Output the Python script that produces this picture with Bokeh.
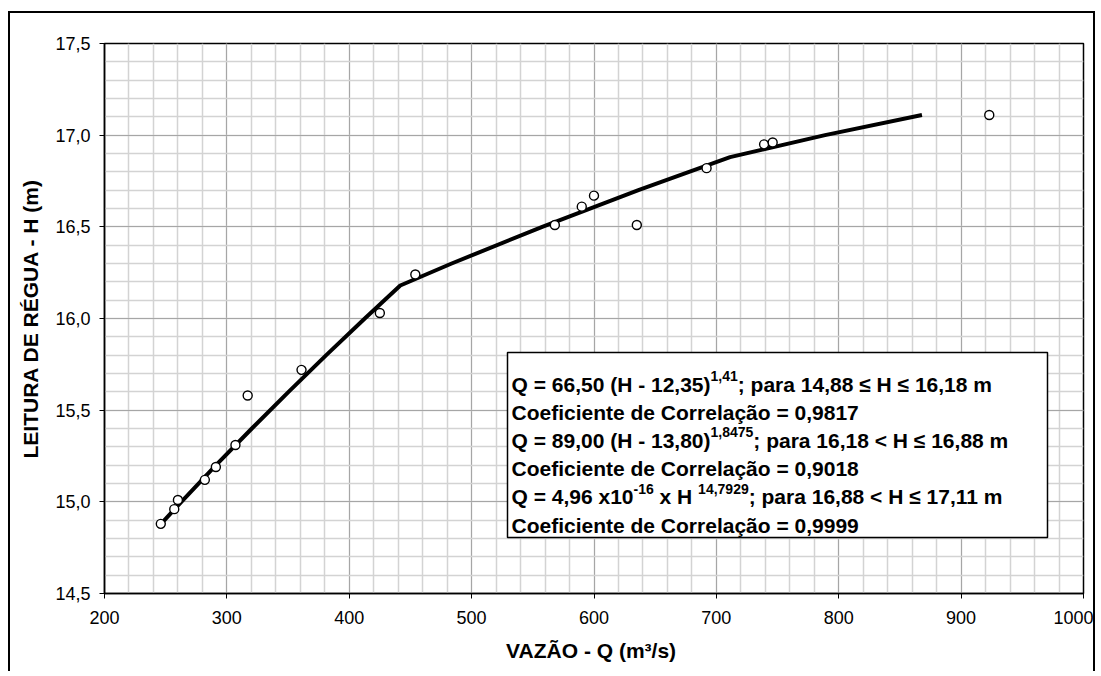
import numpy as np
from bokeh.plotting import figure
from bokeh.models import FixedTicker, Label, BoxAnnotation
from bokeh.embed import file_html
from bokeh.resources import INLINE

# ---------------- data ----------------
vazao_obs = [246, 257, 260, 282, 291, 307, 317, 361, 425, 454, 568, 590, 600, 635, 692, 739, 746, 923]
cota_obs = [14.88, 14.96, 15.01, 15.12, 15.19, 15.31, 15.58, 15.72, 16.03, 16.24,
            16.51, 16.61, 16.67, 16.51, 16.82, 16.95, 16.96, 17.11]

curve_h = [14.88, 15.0, 15.2, 15.4, 15.6, 15.8, 16.0, 16.18, 16.3, 16.5, 16.7, 16.88, 17.0, 17.11]
curve_q = [246.2, 262.8, 291.1, 320.4, 350.4, 381.2, 412.7, 441.7, 483.7, 557.7, 636.3, 711.2, 788.8, 868.0]

x_ticks = [200, 300, 400, 500, 600, 700, 800, 900, 1000]
y_ticks = [14.5, 15.0, 15.5, 16.0, 16.5, 17.0, 17.5]
y_tick_labels = ["14,5", "15,0", "15,5", "16,0", "16,5", "17,0", "17,5"]

# (text, is_superscript, spaces before)
eq_lines = [
    [("Q =  66,50 (H - 12,35)", False, 0), ("1,41", True, 0), ("; para 14,88 \u2264 H \u2264  16,18 m", False, 0)],
    [("Coeficiente de Correla\u00e7\u00e3o = 0,9817", False, 0)],
    [("Q =  89,00 (H - 13,80)", False, 0), ("1,8475", True, 0), ("; para 16,18 < H \u2264  16,88 m", False, 0)],
    [("Coeficiente de Correla\u00e7\u00e3o = 0,9018", False, 0)],
    [("Q = 4,96 x10", False, 0), ("-16", True, 0), ("x H", False, 1), ("14,7929", True, 1),
     ("; para 16,88 < H \u2264  17,11 m", False, 0)],
    [("Coeficiente de Correla\u00e7\u00e3o = 0,9999", False, 0)],
]

# ---------------- layout ----------------
MARGIN_L, MARGIN_T, BORDER = 8, 11, 2
W, HH = 1087, 660
OX = MARGIN_L + BORDER
OY = MARGIN_T + BORDER
FL, FR, FT, FB = 104, 1083, 43, 593   # frame in page px
X0, X1, Y0, Y1 = 200, 1000, 14.5, 17.5

FONT = "Liberation Sans"

p = figure(width=W, height=HH, x_range=(X0, X1), y_range=(Y0, Y1),
           output_backend="svg", toolbar_location=None,
           min_border_left=FL - OX, min_border_right=(OX + W) - FR,
           min_border_top=FT - OY, min_border_bottom=(OY + HH) - FB)
p.styles = {"margin-left": f"{MARGIN_L}px", "margin-top": f"{MARGIN_T}px",
            "border-left": "2px solid black", "border-top": "2px solid black",
            "border-right": "2px solid black"}

p.background_fill_color = "white"
p.border_fill_color = "white"
p.outline_line_color = "black"
p.outline_line_width = 1.5

p.xaxis.ticker = FixedTicker(ticks=x_ticks, minor_ticks=list(np.arange(200, 1001, 20)))
p.yaxis.ticker = FixedTicker(ticks=y_ticks, minor_ticks=[round(v, 1) for v in np.arange(14.5, 17.51, 0.1)])
p.yaxis.major_label_overrides = {t: l for t, l in zip(y_ticks, y_tick_labels)}

for ax in (p.xaxis, p.yaxis):
    ax.axis_line_color = "black"
    ax.axis_line_width = 1.5
    ax.major_tick_line_color = "black"
    ax.major_tick_line_width = 1
    ax.major_tick_out = 5
    ax.major_tick_in = 0
    ax.minor_tick_line_color = None
    ax.major_label_text_font = FONT
    ax.major_label_text_font_size = "18px"
    ax.major_label_text_color = "black"
    ax.major_label_standoff = 9
    ax.axis_label_text_font = FONT
    ax.axis_label_text_font_size = "21px"
    ax.axis_label_text_font_style = "bold"
    ax.axis_label_text_color = "black"
    ax.axis_label_standoff = 10

p.xaxis.major_label_standoff = 12
p.xaxis.axis_label_standoff = 12

p.xaxis.axis_label = "VAZÃO -  Q (m³/s)"
p.yaxis.axis_label = "LEITURA DE RÉGUA - H (m)"

for g in (p.xgrid, p.ygrid):
    g.grid_line_color = "#a6a6a6"
    g.grid_line_width = 1
    g.minor_grid_line_color = "#d3d3d3"
    g.minor_grid_line_width = 1.5

# curve and observed points
p.line(curve_q, curve_h, line_color="black", line_width=4)
p.scatter(vazao_obs, cota_obs, marker="circle", size=9, fill_color="white",
          line_color="black", line_width=1.4)


def q_at(px):
    return X0 + (px - FL) * (X1 - X0) / (FR - FL)


def h_at(py):
    return Y1 - (py - FT) * (Y1 - Y0) / (FB - FT)


# text box
p.add_layout(BoxAnnotation(left=q_at(507), right=q_at(1047), top=h_at(352), bottom=h_at(537),
                           fill_color="white", fill_alpha=1.0, line_color="black",
                           line_width=1.5, line_alpha=1.0))

# Arial Bold advance widths (per 1000 em)
AW = {" ": 278, "Q": 778, "=": 584, ",": 278, "(": 333, ")": 333, "H": 722, "-": 333,
      ";": 333, "p": 611, "a": 556, "r": 389, "\u2264": 549, "<": 584, "m": 889, "x": 556}
for d in "0123456789":
    AW[d] = 556


def text_w(s, size):
    s = " ".join(s.split())   # SVG collapses repeated spaces
    return sum(AW.get(c, 556) for c in s) * size / 1000.0


MAIN, SUP = 21, 14
TX = 511
first_center, spacing = 376, 28.2
for i, pieces in enumerate(eq_lines):
    base = first_center + i * spacing + 7.5
    x = TX
    for txt, sup, gap in pieces:
        size = SUP if sup else MAIN
        x += gap * AW[" "] * MAIN / 1000.0
        yy = base - 8 if sup else base
        p.add_layout(Label(x=q_at(x), y=h_at(yy), text=txt, text_font=FONT,
                           text_font_size=f"{size}px", text_font_style="bold",
                           text_color="black", text_baseline="alphabetic", text_align="left"))
        x += text_w(txt, size)

open("out.html", "w").write(file_html(p, INLINE))
